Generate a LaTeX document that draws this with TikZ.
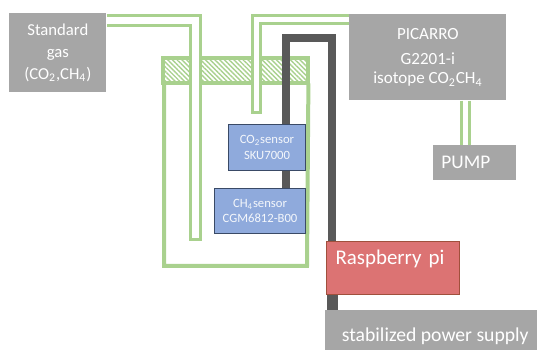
\documentclass[tikz,border=0pt]{standalone}
\usepackage{fontspec}
\setmainfont{Carlito}
\usetikzlibrary{calc, backgrounds, patterns.meta}
\def\px{0.02cm}
\definecolor{boxgray}{HTML}{A6A6A6}
\definecolor{sensorblue}{HTML}{8FAADC}
\definecolor{sensorline}{HTML}{3A4A66}
\definecolor{tubegreen}{HTML}{A9D18E}
\definecolor{cablegray}{HTML}{595959}
\definecolor{pired}{HTML}{DC7373}
\definecolor{piline}{HTML}{A0503C}

\begin{document}
\begin{tikzpicture}[x=0.02cm, y=-0.02cm,
    graybox/.style={anchor=north west, inner sep=0pt, fill=boxgray, text=white, align=center},
    sensorbox/.style={anchor=north west, inner sep=0pt, fill=sensorblue, draw=sensorline, line width=1*\px, text=white!90!sensorblue, align=center, font=\fontsize{7.2pt}{8.6pt}\selectfont},
    tube/.style={draw=tubegreen, line width=3*\px},
    wall/.style={draw=tubegreen, line width=4*\px},
    cable/.style={draw=cablegray, line width=8*\px}]

    \useasboundingbox (0,0) rectangle (537,350);

    % 箱
    \node[graybox, minimum width=97*\px, minimum height=79*\px, font=\fontsize{9.5pt}{12.4pt}\selectfont] (std) at (9,13)
      {Standard\\gas\\(CO\textsubscript{2},CH\textsubscript{4})};
    \node[graybox, minimum width=157*\px, minimum height=86*\px, font=\fontsize{9.7pt}{12.4pt}\selectfont] (pic) at (349,14)
      {PICARRO\\[1.8pt]G2201-i\\[-1.5pt]isotope CO\textsubscript{2}CH\textsubscript{4}};
    \node[graybox, align=left, text width=67*\px, inner xsep=8*\px, minimum height=35*\px, font=\fontsize{11pt}{13pt}\selectfont] (pump) at (433,145)
      {PUMP};
    \node[graybox, minimum width=212*\px, minimum height=40*\px, text height=14.5pt, font=\fontsize{11.2pt}{13pt}\selectfont] (psu) at (325,310)
      {\hspace*{4.5pt}stabilized power supply};

    % センサとマイコン
    \node[sensorbox, minimum width=77*\px, minimum height=46*\px] (co2) at (228,124)
      {CO\textsubscript{2}sensor\\SKU7000};
    \node[sensorbox, minimum width=91*\px, minimum height=45*\px] (ch4) at (214,188)
      {CH\textsubscript{4}sensor\\CGM6812-B00};
    \node[anchor=north west, inner sep=0pt, fill=pired, draw=piline, line width=1*\px, text=white, align=left,
      text width=115*\px, inner xsep=9*\px, minimum height=53*\px, text depth=12pt, font=\fontsize{11.9pt}{13pt}\selectfont] (rpi) at (326,241)
      {Raspberry pi};

    \begin{pgfonlayer}{background}
      % 容器の蓋と壁
      \node[wall, anchor=north west, inner sep=0pt, minimum width=145*\px, minimum height=25*\px,
        pattern={Lines[angle=-45, distance=1.9pt, line width=0.8pt]}, pattern color=tubegreen] (lid) at (162,57) {};
      \draw[wall] (lid.south west) ++(2,0) |- (307,266) -- (lid.south east);

      % ガス管
      \filldraw[tube, fill=white] ($(std.north east)+(0,3)$) -| (200,240) -- (190,240) |- ($(std.north east)+(0,13)$);
      \filldraw[tube, fill=white] ($(pic.north west)+(0,2)$) -| (252,113) -- (260,113) |- ($(pic.north west)+(0,9.5)$);

      % ポンプの配管
      \coordinate (pumpa) at (461,120);
      \coordinate (pumpb) at (469,120);
      \draw[tube] (pic.south -| pumpa) -- (pump.north -| pumpa);
      \draw[tube] (pic.south -| pumpb) -- (pump.north -| pumpb);

      % 配線
      \draw[cable] (ch4.north -| 286,0) |- (332,38) -- (rpi.north -| 332,0);
      \coordinate (cablelow) at (332.5,300);
      \draw[draw=cablegray, line width=11*\px] (rpi.south -| cablelow) -- (psu.north -| cablelow);
    \end{pgfonlayer}
  \end{tikzpicture}
\end{document}
